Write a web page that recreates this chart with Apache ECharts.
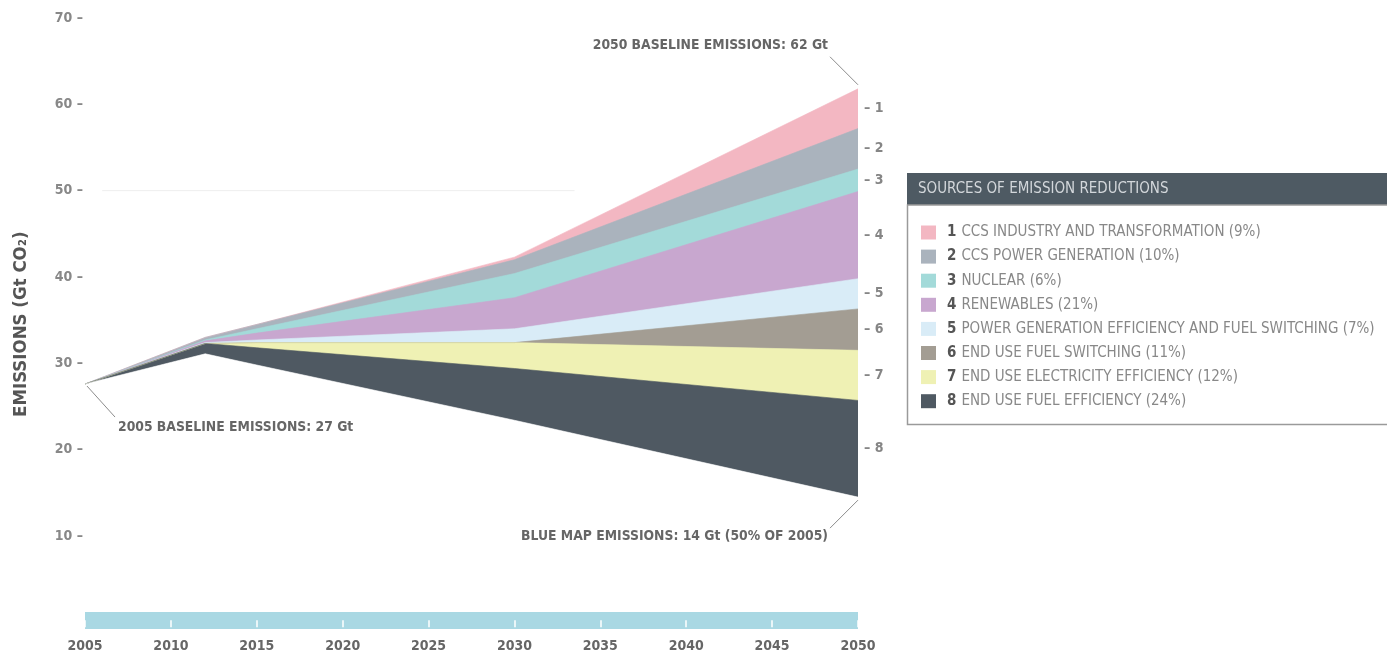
<!DOCTYPE html>
<html>
<head>
<meta charset="utf-8">
<script src="https://cdn.jsdelivr.net/npm/echarts@6/dist/echarts.min.js"></script>
<style>
html,body{margin:0;padding:0;background:#fff;}
#c{width:1387px;height:656px;}
</style>
</head>
<body>
<div id="c"></div>
<script>
// ---- data (Gt CO2) ----
const years = [2005, 2012, 2015, 2030, 2050];
const blueMap = [27.6, 31.1, 29.8, 23.4, 14.5];          // bottom line (BLUE Map emissions)
const endUseFuelEff = [0, 1.2, 2.0, 6.0, 11.2];          // 8
const endUseElecEff = [0, 0, 0.6, 3.0, 5.8];             // 7
const endUseFuelSwitch = [0, 0, 0, 0, 4.8];              // 6
const powerGenEff = [0, 0.1, 0.3, 1.6, 3.5];             // 5
const renewables = [0, 0.2, 0.8, 3.6, 10.1];             // 4
const nuclear = [0, 0.1, 0.5, 2.8, 2.6];                 // 3
const ccsPower = [0, 0.3, 0.5, 1.6, 4.7];                // 2
const ccsIndustry = [0, 0, 0, 0.3, 4.6];                 // 1
const yTicks = [10, 20, 30, 40, 50, 60, 70];
const layerNames = [
  '8 END USE FUEL EFFICIENCY (24%)',
  '7 END USE ELECTRICITY EFFICIENCY (12%)',
  '6 END USE FUEL SWITCHING (11%)',
  '5 POWER GENERATION EFFICIENCY AND FUEL SWITCHING (7%)',
  '4 RENEWABLES (21%)',
  '3 NUCLEAR (6%)',
  '2 CCS POWER GENERATION (10%)',
  '1 CCS INDUSTRY AND TRANSFORMATION (9%)'
];
const layerData = [endUseFuelEff, endUseElecEff, endUseFuelSwitch, powerGenEff, renewables, nuclear, ccsPower, ccsIndustry];
const layerColors = ['#4f5962', '#eff1b4', '#a39d93', '#d9ecf7', '#c8a7cf', '#a3dad9', '#aab3bd', '#f3b7c2'];
const legendTitle = 'SOURCES OF EMISSION REDUCTIONS';
const note2050 = '2050 BASELINE EMISSIONS: 62 Gt';
const note2005 = '2005 BASELINE EMISSIONS: 27 Gt';
const noteBlue = 'BLUE MAP EMISSIONS: 14 Gt (50% OF 2005)';

const FONT = "'Liberation Sans Narrow','DejaVu Sans Condensed','Roboto Condensed',Roboto,sans-serif";

// cumulative upper boundary of each band (bottom band first)
const tops = [];
let run = blueMap.slice();
layerData.forEach(arr => { run = run.map((v, i) => v + arr[i]); tops.push(run.slice()); });
const pair = arr => arr.map((v, i) => [years[i], +v.toFixed(3)]);

// draw from the top band down; each later band covers the lower part of the earlier one
const series = [];
for (let k = layerData.length - 1; k >= 0; k--) {
  series.push({
    name: layerNames[k], type: 'line', data: pair(tops[k]),
    symbol: 'none', showSymbol: false, color: layerColors[k],
    lineStyle: { width: 0.6, color: layerColors[k] },
    areaStyle: { color: layerColors[k], opacity: 1 },
    silent: true, z: 2
  });
}
series.push({
  name: 'base', type: 'line', data: pair(blueMap),
  symbol: 'none', showSymbol: false, color: '#ffffff',
  lineStyle: { width: 0.6, color: '#ffffff' },
  areaStyle: { color: '#ffffff', opacity: 1 },
  silent: true, z: 2
});

// layer number labels at 2050 (mid of each band)
const last = years.length - 1;
const labelPts = layerData.map((arr, i) => ({
  value: [years[last], tops[i][last] - arr[last] / 2], num: layerNames[i].split(' ')[0]
}));
const totalEnd = tops[tops.length - 1][last];
series.push({
  name: 'labels', type: 'scatter', data: labelPts, symbolSize: 0, silent: true, z: 5,
  label: { show: true, position: 'right', distance: 6, formatter: p => '\u2013 ' + p.data.num,
    color: '#666', fontSize: 14, fontFamily: FONT, fontWeight: 'bold' }
});

const chart = echarts.init(document.getElementById('c'));
chart.setOption({
  animation: false,
  backgroundColor: '#fff',
  grid: { left: 85, right: 529, top: 18, bottom: 33.7 },
  xAxis: {
    type: 'value', min: 2005, max: 2050, interval: 5, offset: -2, z: 10,
    axisLine: { show: true, lineStyle: { color: '#a9d8e3', width: 17, cap: 'butt' } },
    axisTick: { show: true, length: 7, lineStyle: { color: '#ffffff', width: 1.5 } },
    axisLabel: { margin: 19, color: '#666', fontSize: 14, fontWeight: 'bold', fontFamily: FONT, formatter: v => String(v) },
    splitLine: { show: false }
  },
  yAxis: {
    type: 'value', min: 0, max: 70, interval: 10,
    axisLine: { show: false }, axisTick: { show: false }, splitLine: { show: false },
    axisLabel: { margin: 2, color: '#888', fontSize: 14, fontWeight: 'bold', fontFamily: FONT,
      formatter: v => yTicks.indexOf(v) >= 0 ? v + ' \u2013' : '' },
    name: 'EMISSIONS (Gt CO\u2082)', nameLocation: 'middle', nameGap: 54,
    nameTextStyle: { color: '#555', fontSize: 18.5, fontWeight: 'bold', fontFamily: FONT, padding: [0, 8, 0, 0] }
  },
  legend: {
    orient: 'vertical', left: 921, top: 225, padding: 0, itemWidth: 15, itemHeight: 14, itemGap: 9.1,
    icon: 'rect', selectedMode: false,
    data: layerNames.slice().reverse(),
    formatter: name => {
      const k = name.indexOf(' ');
      return '{n|' + name.slice(0, k) + '}{t|' + name.slice(k + 1) + '}';
    },
    textStyle: {
      fontFamily: FONT, fontSize: 15, lineHeight: 14,
      rich: {
        n: { color: '#555', fontWeight: 'bold', fontSize: 15, lineHeight: 14, fontFamily: FONT, padding: [0, 5, 0, 6] },
        t: { color: '#888', fontSize: 15, lineHeight: 14, fontFamily: FONT }
      }
    }
  },
  series: series
});

// annotations anchored to data points
const P = (x, y) => chart.convertToPixel({ gridIndex: 0 }, [x, y]);
const a50 = P(years[last], totalEnd);
const a05 = P(years[0], blueMap[0]);
const aBl = P(years[last], blueMap[last]);
const g50a = P(2006, yTicks[4]);
const g50b = P(2033.5, yTicks[4]);
const txt = { fill: '#666', fontSize: 13.8, fontWeight: 'bold', fontFamily: FONT };
const lineS = { stroke: '#8c8c8c', lineWidth: 1 };
chart.setOption({
  graphic: [
    { type: 'line', z: 1, shape: { x1: g50a[0], y1: g50a[1], x2: g50b[0], y2: g50b[1] }, style: { stroke: '#eeeeee', lineWidth: 1 }, silent: true },
    { type: 'rect', z: 100, shape: { x: 907, y: 173, width: 490, height: 32 }, style: { fill: '#4e5a63' }, silent: true },
    { type: 'text', z: 101, x: 918, y: 189, style: Object.assign({}, txt, { text: legendTitle, fill: '#d3d7db', fontSize: 15, fontWeight: 'normal', verticalAlign: 'middle' }), silent: true },
    { type: 'rect', z: 100, shape: { x: 907.5, y: 205, width: 490, height: 219.5 }, style: { fill: 'none', stroke: '#9a9a9a', lineWidth: 1.5 }, silent: true },
    { type: 'line', z: 100, shape: { x1: a50[0], y1: a50[1] - 4, x2: a50[0] - 28, y2: a50[1] - 32 }, style: lineS, silent: true },
    { type: 'text', z: 100, x: a50[0] - 30, y: a50[1] - 43, style: Object.assign({}, txt, { text: note2050, align: 'right', verticalAlign: 'middle' }), silent: true },
    { type: 'line', z: 100, shape: { x1: a05[0] + 2, y1: a05[1] + 2, x2: a05[0] + 30, y2: a05[1] + 33 }, style: lineS, silent: true },
    { type: 'text', z: 100, x: a05[0] + 33, y: a05[1] + 43, style: Object.assign({}, txt, { text: note2005, align: 'left', verticalAlign: 'middle' }), silent: true },
    { type: 'line', z: 100, shape: { x1: aBl[0], y1: aBl[1] + 3, x2: aBl[0] - 28, y2: aBl[1] + 31 }, style: lineS, silent: true },
    { type: 'text', z: 100, x: aBl[0] - 30, y: aBl[1] + 39, style: Object.assign({}, txt, { text: noteBlue, align: 'right', verticalAlign: 'middle' }), silent: true }
  ]
});
</script>
</body>
</html>
